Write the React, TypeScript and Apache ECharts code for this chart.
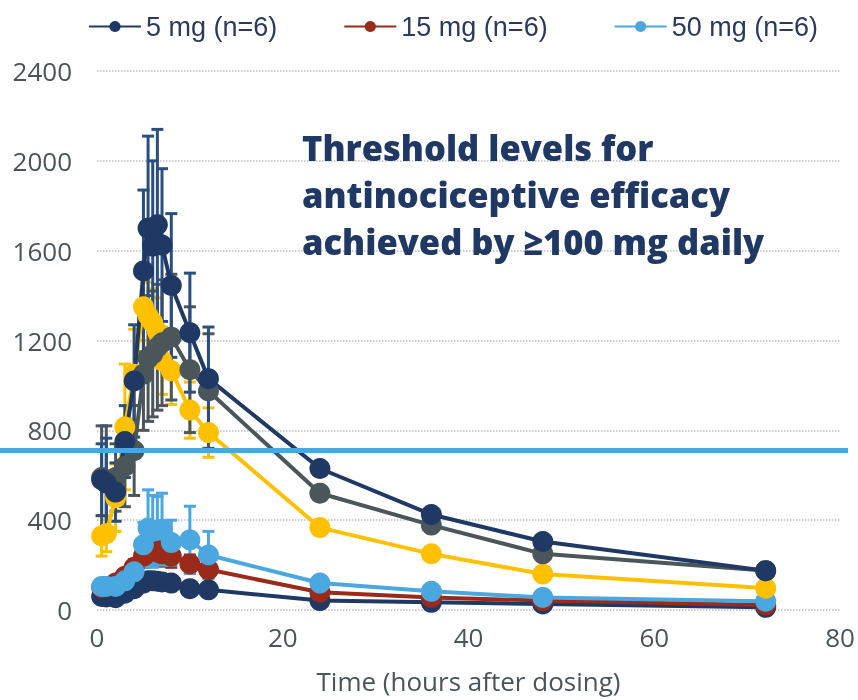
import React, { useEffect, useRef } from "react";
import * as echarts from "echarts";

const TIMES = [0.5, 1, 2, 3, 4, 5, 5.5, 6, 6.5, 7, 8, 10, 12, 24, 36, 48, 72];

const LEGEND_NAMES = ["5 mg (n=6)", "15 mg (n=6)", "50 mg (n=6)"];

const MG5 = [60, 58, 55, 75, 95, 120, 130, 130, 128, 125, 120, 95, 90, 42, 34, 27, 12];
const MG5_ERR = [10, 10, 10, 15, 20, 25, 25, 25, 25, 25, 25, 20, 20, 0, 0, 0, 0];

const MG15 = [100, 105, 120, 150, 190, 240, 255, 270, 260, 250, 240, 205, 180, 79, 56, 42, 22];
const MG15_ERR = [15, 15, 20, 25, 35, 50, 60, 60, 60, 55, 50, 40, 35, 0, 0, 0, 0];

const MG50 = [105, 105, 105, 130, 170, 290, 365, 350, 355, 360, 300, 312, 245, 120, 83, 56, 39];
const MG50_ERR = [25, 25, 30, 40, 50, 100, 170, 160, 150, 160, 100, 150, 105, 0, 0, 0, 0];

const YELLOW = [330, 340, 500, 815, 1050, 1350, 1310, 1280, 1240, 1110, 1065, 890, 790, 367, 250, 160, 97];
const YELLOW_ERR = [90, 80, 150, 280, 200, 150, 150, 150, 150, 150, 150, 125, 110, 0, 0, 0, 0];

const GRAY = [590, 580, 590, 640, 710, 1050, 1120, 1140, 1170, 1190, 1215, 1070, 975, 520, 378, 250, 175];
const GRAY_ERR = [230, 240, 150, 180, 200, 250, 280, 280, 280, 280, 280, 280, 255, 0, 0, 0, 0];

const NAVY_HIGH = [580, 565, 525, 750, 1020, 1510, 1700, 1620, 1715, 1625, 1445, 1235, 1030, 630, 425, 305, 175];
const NAVY_HIGH_ERR = [160, 200, 130, 160, 250, 360, 410, 380, 425, 340, 320, 265, 230, 0, 0, 0, 0];

const THRESHOLD = 710;
const TITLE_LINES = ["Threshold levels for", "antinociceptive efficacy", "achieved by ≥100 mg daily"];
const X_NAME = "Time (hours after dosing)";

const NAVY = "#1F3864";
const RED = "#9A2A1A";
const LBLUE = "#4AA7DF";
const GOLD = "#FFC000";
const SLATE = "#4B565A";
const NAVY_BAR = "#2A4E80";

export default function App() {
  const ref = useRef<HTMLDivElement>(null);

  useEffect(() => {
    if (!ref.current) return;
    const chart = echarts.init(ref.current, undefined, { renderer: "svg" });

    const pts = (vals: number[]) => TIMES.map((t, i) => [t, vals[i]]);
    const errData = (vals: number[], errs: number[]) =>
      TIMES.map((t, i) => [t, vals[i] - errs[i], vals[i] + errs[i], errs[i]]).filter((d) => d[3] > 0);

    const errSeries = (name: string, vals: number[], errs: number[], color: string) => ({
      type: "custom",
      name: name + " err",
      data: errData(vals, errs),
      encode: { x: 0, y: [1, 2] },
      silent: true,
      renderItem: (params: any, api: any) => {
        const t = api.value(0);
        const lo = api.coord([t, api.value(1)]);
        const hi = api.coord([t, api.value(2)]);
        const hw = 6;
        const style = { stroke: color, lineWidth: 3 };
        return {
          type: "group",
          children: [
            { type: "line", shape: { x1: lo[0], y1: lo[1], x2: hi[0], y2: hi[1] }, style },
            { type: "line", shape: { x1: hi[0] - hw, y1: hi[1], x2: hi[0] + hw, y2: hi[1] }, style },
            { type: "line", shape: { x1: lo[0] - hw, y1: lo[1], x2: lo[0] + hw, y2: lo[1] }, style },
          ],
        };
      },
    });

    const lineSeries = (name: string, vals: number[], color: string) => ({
      type: "line",
      name,
      data: pts(vals),
      symbol: "circle",
      symbolSize: 21,
      showSymbol: true,
      lineStyle: { color, width: 4 },
      itemStyle: { color },
    });

    const tickFont = { color: "#4A5459", fontSize: 26, fontFamily: "'Open Sans', sans-serif" };

    const option: any = {
      animation: false,
      grid: { left: 97, right: 18, top: 71, bottom: 90 },
      legend: {
        data: LEGEND_NAMES,
        left: 83,
        top: 8,
        width: 775,
        itemWidth: 52,
        itemHeight: 14,
        itemGap: 66,
        textStyle: {
          color: "#2B3A5C",
          fontSize: 27,
          fontFamily: "'Liberation Sans', Arial, sans-serif",
        },
      },
      xAxis: {
        type: "value",
        min: 0,
        max: 80,
        interval: 20,
        name: X_NAME,
        nameLocation: "middle",
        nameGap: 58,
        nameTextStyle: tickFont,
        axisLine: { show: false },
        axisTick: { show: false },
        splitLine: { show: false },
        axisLabel: { ...tickFont, margin: 14, formatter: (v: number) => String(v) },
      },
      yAxis: {
        type: "value",
        min: 0,
        max: 2400,
        interval: 400,
        axisLine: { show: false },
        axisTick: { show: false },
        splitLine: { show: true, lineStyle: { color: "#BFBFBF", type: "dotted", width: 1.5 } },
        axisLabel: { ...tickFont, margin: 25, formatter: (v: number) => String(v) },
      },
      series: [
        errSeries(LEGEND_NAMES[0], MG5, MG5_ERR, NAVY_BAR),
        lineSeries(LEGEND_NAMES[0], MG5, NAVY),
        errSeries(LEGEND_NAMES[1], MG15, MG15_ERR, RED),
        lineSeries(LEGEND_NAMES[1], MG15, RED),
        errSeries(LEGEND_NAMES[2], MG50, MG50_ERR, LBLUE),
        lineSeries(LEGEND_NAMES[2], MG50, LBLUE),
        errSeries("Series 4", YELLOW, YELLOW_ERR, GOLD),
        lineSeries("Series 4", YELLOW, GOLD),
        errSeries("Series 5", GRAY, GRAY_ERR, SLATE),
        lineSeries("Series 5", GRAY, SLATE),
        errSeries("Series 6", NAVY_HIGH, NAVY_HIGH_ERR, NAVY_BAR),
        lineSeries("Series 6", NAVY_HIGH, NAVY),
      ],
    };

    chart.setOption(option);

    const yT = chart.convertToPixel({ yAxisIndex: 0 }, THRESHOLD) as number;
    chart.setOption({
      graphic: [
        {
          type: "line",
          z: 100,
          shape: { x1: 0, y1: yT, x2: 848, y2: yT },
          style: { stroke: LBLUE, lineWidth: 5 },
          silent: true,
        },
        {
          type: "text",
          z: 100,
          left: 302,
          top: 124,
          style: {
            text: TITLE_LINES.join("\n"),
            fill: NAVY,
            font: "800 34.5px 'Open Sans', Lato, sans-serif",
            lineHeight: 47,
          },
          silent: true,
        },
      ],
    });

    return () => chart.dispose();
  }, []);

  return <div ref={ref} style={{ position: "fixed", left: 0, top: 0, width: 858, height: 700 }} />;
}
